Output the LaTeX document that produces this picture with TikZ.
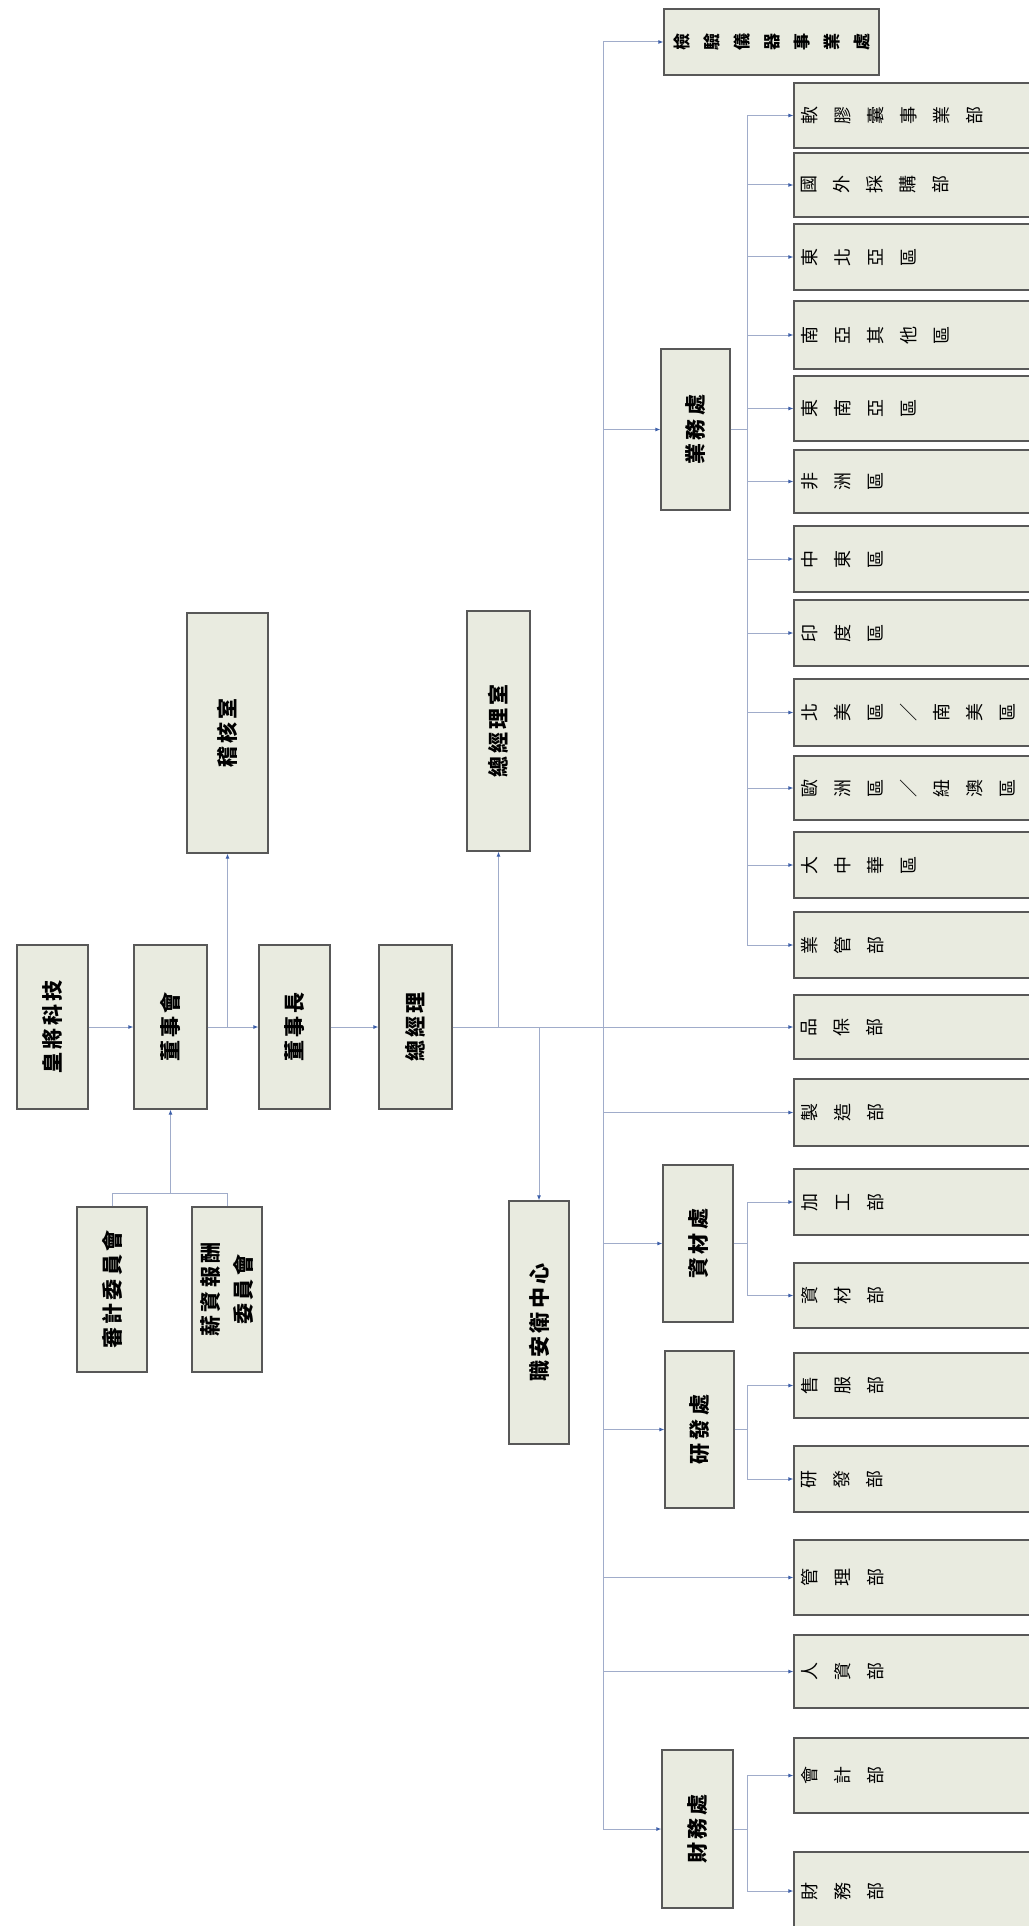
\documentclass[tikz,border=0pt]{standalone}
\usepackage{fontspec}
\newfontfamily\cjk{Noto Sans CJK TC}
\newfontfamily\cjksp{Noto Sans CJK TC}[LetterSpace=15]
\usetikzlibrary{fit,arrows.meta}
\definecolor{boxfill}{RGB}{233,235,224}
\definecolor{boxline}{RGB}{88,88,88}
\definecolor{linkline}{RGB}{160,172,202}
\definecolor{tipblue}{RGB}{60,95,170}
\tikzset{
  box/.style={draw=boxline, fill=boxfill, line width=1.2pt, inner sep=0pt},
  mtext/.style={rotate=90, align=center, inner sep=0pt,
    font={\cjksp\bfseries\fontsize{21}{33}\selectfont}},
  dtext/.style={rotate=90, anchor=north, align=center, inner sep=0pt,
    font={\cjk\fontsize{18}{33}\selectfont}},
  vtext/.style={rotate=90, align=center, inner sep=0pt,
    font={\cjk\bfseries\fontsize{17}{30}\selectfont}},
  link/.style={draw=linkline, line width=1pt},
  conn/.style={link, -{Latex[length=5pt,width=4pt,color=tipblue]}}
}
\newcommand\unitbox[3]{%
  \node[box, fit={#2}] (#1) {};
  \node[mtext] (#1t) at (#1.center) {#3};}
\newcommand\dept[4]{%
  \node[box, fit={(794,#2)(1034,#3)}] (#1) {};
  \node[dtext] (#1t) at ([xshift=8pt]#1.west) {#4};}
\begin{document}
\begin{tikzpicture}[x=1pt,y=-1pt]
\fill[white] (0,0) rectangle (1028,1926);
\useasboundingbox (0,0) rectangle (1028,1926);

% main chain
\unitbox{A}{(17,945)(88,1109)}{皇將科技}
\unitbox{B}{(134,945)(207,1109)}{董事會}
\unitbox{C}{(259,945)(330,1109)}{董事長}
\unitbox{D}{(379,945)(452,1109)}{總經理}
\unitbox{E}{(187,613)(268,853)}{稽核室}
\unitbox{F}{(467,611)(530,851)}{總經理室}
\unitbox{G}{(509,1201)(569,1444)}{職安衛中心}
\unitbox{H}{(77,1207)(147,1372)}{審計委員會}
\unitbox{I}{(192,1207)(262,1372)}{薪資報酬\\委員會}

% divisions
\node[box, fit={(664,9)(879,75)}] (J) {};
\node[vtext] (Jt) at (J.center) {檢\\驗\\儀\\器\\事\\業\\處};
\unitbox{K}{(661,349)(730,510)}{業務處}
\unitbox{L}{(663,1165)(733,1322)}{資材處}
\unitbox{M}{(665,1351)(734,1508)}{研發處}
\unitbox{N}{(662,1750)(733,1908)}{財務處}

% departments
\dept{d1}{83}{148}{軟\\膠\\囊\\事\\業\\部}
\dept{d2}{153}{217}{國\\外\\採\\購\\部}
\dept{d3}{224}{290}{東\\北\\亞\\區}
\dept{d4}{301}{369}{南\\亞\\其\\他\\區}
\dept{d5}{376}{441}{東\\南\\亞\\區}
\dept{d6}{450}{513}{非\\洲\\區}
\dept{d7}{526}{592}{中\\東\\區}
\dept{d8}{600}{666}{印\\度\\區}
\dept{d9}{679}{746}{北\\美\\區\\／\\南\\美\\區}
\dept{d10}{756}{820}{歐\\洲\\區\\／\\紐\\澳\\區}
\dept{d11}{832}{898}{大\\中\\華\\區}
\dept{d12}{912}{978}{業\\管\\部}
\dept{qa}{995}{1059}{品\\保\\部}
\dept{mf}{1079}{1146}{製\\造\\部}
\dept{pr}{1169}{1235}{加\\工\\部}
\dept{mt}{1263}{1328}{資\\材\\部}
\dept{sv}{1353}{1418}{售\\服\\部}
\dept{rd}{1446}{1512}{研\\發\\部}
\dept{mg}{1540}{1615}{管\\理\\部}
\dept{hr}{1635}{1708}{人\\資\\部}
\dept{ac}{1738}{1813}{會\\計\\部}
\dept{fi}{1852}{1930}{財\\務\\部}

% top connectors
\draw[conn] (A) -- (B);
\draw[conn] (B) -- (C);
\draw[conn] (C) -- (D);
\coordinate (jE) at (E.south |- B.east);
\draw[conn] (jE) -- (E.south);
\coordinate (cj) at (B.south |- 0,1193);
\draw[link] (H.north) |- (cj) -| (I.north);
\draw[conn] (cj) -- (B.south);
\draw[conn] (D.east) -- (D.east -| qa.west);
\coordinate (jF) at (F.south |- D.east);
\draw[conn] (jF) -- (F.south);
\coordinate (jG) at (G.north |- D.east);
\draw[conn] (jG) -- (G.north);

% main trunk
\coordinate (T) at (603,0);
\draw[link] (T |- J.west) -- (T |- N.west);
\foreach \n in {J,K,L,M,N,mf,mg,hr}{\draw[conn] (T |- \n.west) -- (\n.west);}

% sub trunks
\coordinate (S) at (747,0);
\draw[link] (K.east) -- (S |- K.east);
\draw[link] (S |- d1.west) -- (S |- d12.west);
\foreach \n in {d1,d2,d3,d4,d5,d6,d7,d8,d9,d10,d11,d12}{\draw[conn] (S |- \n.west) -- (\n.west);}
\draw[link] (L.east) -- (S |- L.east);
\draw[link] (S |- pr.west) -- (S |- mt.west);
\foreach \n in {pr,mt}{\draw[conn] (S |- \n.west) -- (\n.west);}
\draw[link] (M.east) -- (S |- M.east);
\draw[link] (S |- sv.west) -- (S |- rd.west);
\foreach \n in {sv,rd}{\draw[conn] (S |- \n.west) -- (\n.west);}
\draw[link] (N.east) -- (S |- N.east);
\draw[link] (S |- ac.west) -- (S |- fi.west);
\foreach \n in {ac,fi}{\draw[conn] (S |- \n.west) -- (\n.west);}
\end{tikzpicture}
\end{document}
